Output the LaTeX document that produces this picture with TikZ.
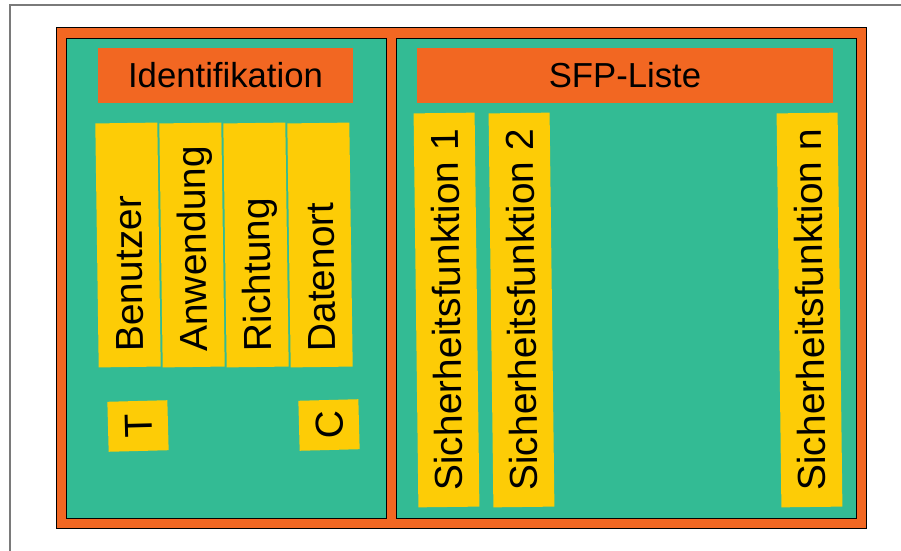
\documentclass[tikz,border=0pt]{standalone}
\usepackage{fontspec}
\setmainfont{Liberation Sans}
\usepackage{tikz}
\usetikzlibrary{shadows}

\definecolor{sfporange}{HTML}{F26722}
\definecolor{sfpteal}{HTML}{33BB94}
\definecolor{sfpyellow}{HTML}{FDCC06}
\definecolor{framegray}{HTML}{7A7A7A}

\begin{document}
\begin{tikzpicture}[x=0.5pt, y=-0.5pt,
  panel/.style={draw=black, line width=0.5pt, fill=sfpteal, inner sep=0pt},
  header/.style={fill=sfporange, inner sep=0pt, minimum height=27.5pt,
    text height=12.5pt, text depth=0pt, font=\fontsize{17.35}{20}\selectfont},
  field/.style={fill=sfpyellow, rotate=90.8, inner xsep=7.5pt, inner ysep=0pt,
    text width=107pt, align=left, minimum height=31pt,
    text height=14pt, text depth=0pt, font=\fontsize{19.5}{22}\selectfont},
  sfp/.style={fill=sfpyellow, rotate=90.7, inner sep=0pt,
    minimum width=197pt, minimum height=30.5pt,
    text height=14pt, text depth=0pt, font=\fontsize{19.5}{22}\selectfont},
  tag/.style={fill=sfpyellow, rotate=91.5, inner sep=0pt,
    minimum width=25pt, minimum height=30pt,
    text height=14pt, text depth=0pt, font=\fontsize{19.5}{22}\selectfont}]
  \useasboundingbox (0,0) rectangle (901,551);
  \draw [framegray, line width=1pt] (10,551) -- (10,5) -- (901,5);
  %
  % outer frame and the two panels
  \node [panel, fill=sfporange, minimum width=405pt, minimum height=250pt,
    drop shadow={shadow xshift=0.6pt, shadow yshift=-0.6pt, fill=black, opacity=0.3}]
    (rahmen) at (461,278) {};
  \node [panel, minimum width=160pt, minimum height=239.75pt] (ident) at (226.5,278.25) {};
  \node [panel, minimum width=229.75pt, minimum height=239.75pt] (liste) at (626.25,278.25) {};
  %
  \node [header, minimum width=127.5pt] (identkopf) at (225.5,75.5) {Identifikation};
  \node [header, minimum width=208pt] (listekopf) at (625,75.5) {SFP-Liste};
  %
  \foreach \name [count=\i] in {Benutzer,Anwendung,Richtung,Datenort} {
    \node [field] (feld\i) at (64*\i+64, 245) {\name};
  }
  \node [tag] (tagT) at (138,426) {T};
  \node [tag] (tagC) at (329,425) {C};
  %
  \foreach \x/\k in {446.5/1, 521.5/2, 809.5/n} {
    \node [sfp] (sf\k) at (\x,310) {Sicherheitsfunktion \k};
  }
\end{tikzpicture}
\end{document}
